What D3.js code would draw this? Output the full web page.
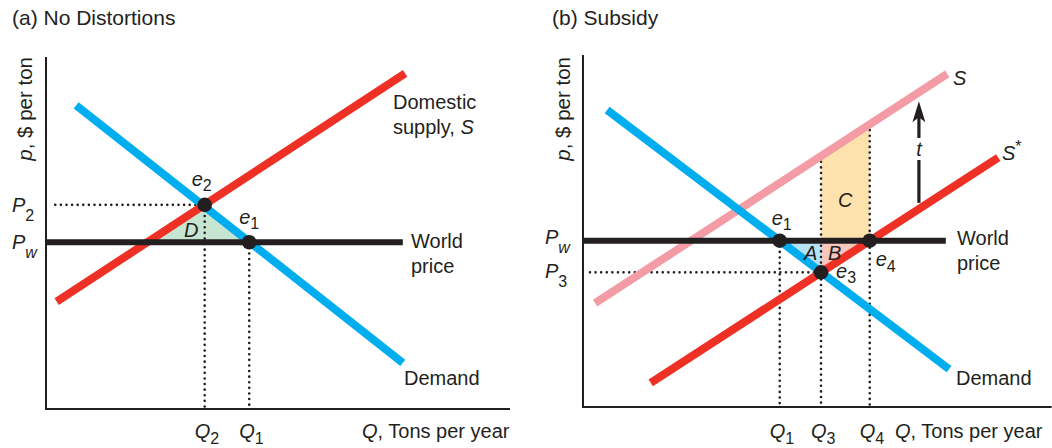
<!DOCTYPE html>
<html>
<head>
<meta charset="utf-8">
<script src="https://cdn.jsdelivr.net/npm/d3@7"></script>
<style>
  html, body { margin: 0; padding: 0; background: #ffffff; }
  svg { display: block; font-family: "Liberation Sans", Arial, Helvetica, sans-serif; }
</style>
</head>
<body>
<svg id="chart" width="1052" height="448"></svg>
<script>
// ---------------- DATA (quantity q, price p) ----------------
// Panel (a): No Distortions
const supplyA     = [[0.23, 2.44], [7.74, 7.63]];
const demandA     = [[0.65, 6.90], [7.69, 1.05]];
const worldPriceA = [[0, 3.79], [7.69, 3.79]];
const pointsA     = [{name: "e2", q: 3.42, p: 4.64}, {name: "e1", q: 4.38, p: 3.79}];
const areaD       = [[2.18, 3.79], [3.42, 4.64], [4.38, 3.79]];
const priceTicksA = [{base: "P", sub: "2", p: 4.64}, {base: "P", sub: "w", p: 3.79}];
const qTicksA     = [{base: "Q", sub: "2", q: 3.42, top: 4.64}, {base: "Q", sub: "1", q: 4.38, top: 3.79}];

// Panel (b): Subsidy
const supplyB     = [[0.26, 2.36], [7.85, 7.57]];
const supplyStarB = [[1.46, 0.55], [8.95, 5.67]];
const demandB     = [[0.52, 6.75], [7.89, 0.86]];
const worldPriceB = [[0, 3.78], [7.82, 3.78]];
const pointsB     = [{name: "e1", q: 4.24, p: 3.78}, {name: "e3", q: 5.13, p: 3.06}, {name: "e4", q: 6.18, p: 3.78}];
const areaA       = [[4.24, 3.78], [5.13, 3.78], [5.13, 3.06]];
const areaB       = [[5.13, 3.78], [6.18, 3.78], [5.13, 3.06]];
const areaC       = [[5.13, 3.78], [6.18, 3.78], [6.18, 6.42], [5.13, 5.70]];
const priceTicksB = [{base: "P", sub: "w", p: 3.78}, {base: "P", sub: "3", p: 3.06}];
const qTicksB     = [{base: "Q", sub: "1", q: 4.24, top: 3.78}, {base: "Q", sub: "3", q: 5.13, top: 5.70}, {base: "Q", sub: "4", q: 6.18, top: 6.42}];
const subsidyT    = {q: 7.24, from: 4.64, to: 6.95};

// ---------------- STYLE ----------------
const RED = "#ee3124", BLUE = "#00aeef", PINK = "#f49ca6", BLACK = "#231f20";
const GREEN_FILL = "#c6e6d2", ORANGE_FILL = "#fde2ad", A_FILL = "#b6e2f6", B_FILL = "#f8c8c0";
const FS = 20, SUBFS = 16;

const svg = d3.select("#chart");

// text with italic / subscript / superscript parts
function richText(g, x, y, parts, anchor) {
  const t = g.append("text").attr("x", x).attr("y", y).attr("font-size", FS)
    .attr("fill", BLACK).attr("text-anchor", anchor || "start");
  let shift = 0;
  parts.forEach(pt => {
    const target = pt.sub ? (pt.shift || 7) : (pt.sup ? -8 : 0);
    const ts = t.append("tspan").text(pt.t).attr("dy", target - shift);
    shift = target;
    if (pt.it) ts.attr("font-style", "italic");
    if (pt.sub || pt.sup) ts.attr("font-size", SUBFS);
  });
  return t;
}

function drawPanel(cfg) {
  const g = svg.append("g");
  const x = d3.scaleLinear().domain(cfg.qDomain).range(cfg.xRange);
  const y = d3.scaleLinear().domain([0, 8]).range(cfg.yRange);
  const line = d3.line().x(d => x(d[0])).y(d => y(d[1]));
  const poly = pts => line(pts) + "Z";

  // shaded areas
  cfg.areas.forEach(a => g.append("path").attr("d", poly(a.pts)).attr("fill", a.fill));

  // dotted guide lines
  const dotted = (pts) => g.append("path").attr("d", line(pts)).attr("fill", "none")
    .attr("stroke", BLACK).attr("stroke-width", 2.6).attr("stroke-linecap", "round")
    .attr("stroke-dasharray", "0 5.6");
  cfg.dottedH.forEach(d => dotted([[cfg.hStart, d.p], [d.q, d.p]]));
  cfg.qTicks.forEach(d => dotted([[d.q, d.top], [d.q, 0.05]]));

  // axes (L shape)
  g.append("path").attr("d", line([[0, 8], [0, 0], [cfg.qDomain[1], 0]]))
    .attr("fill", "none").attr("stroke", BLACK).attr("stroke-width", 2);

  // curves
  cfg.curves.forEach(c => g.append("path").attr("d", line(c.pts)).attr("fill", "none")
    .attr("stroke", c.color).attr("stroke-width", c.w));

  // equilibrium points
  cfg.points.forEach(pt => g.append("circle").attr("cx", x(pt.q)).attr("cy", y(pt.p))
    .attr("r", 7.3).attr("fill", BLACK));

  // price tick labels
  cfg.priceTicks.forEach((d, i) => richText(g, cfg.pLabelX, y(d.p) + cfg.pLabelDy[i],
    [{t: d.base, it: true}, {t: d.sub, it: d.sub === "w", sub: true, shift: 9}]));

  // quantity tick labels
  cfg.qTicks.forEach(d => richText(g, x(d.q) - 10, 438,
    [{t: d.base, it: true}, {t: d.sub, sub: true, shift: 6}]));

  // axis titles
  richText(g, cfg.xTitleX, 438, [{t: "Q", it: true}, {t: ", Tons per year"}]);
  const yl = g.append("text").attr("transform", `translate(${cfg.yTitleX},57) rotate(-90)`)
    .attr("text-anchor", "end").attr("font-size", FS + 0.5).attr("fill", BLACK);
  yl.append("tspan").text("p").attr("font-style", "italic");
  yl.append("tspan").text(", $ per ton");

  // panel title
  g.append("text").attr("x", cfg.titleX).attr("y", 25).attr("font-size", 21)
    .attr("fill", BLACK).text(cfg.title);

  return {g, x, y};
}

// ---------- Panel (a) ----------
const A = drawPanel({
  title: "(a) No Distortions", titleX: 12,
  qDomain: [0, 10], xRange: [46, 510], yRange: [409, 57],
  areas: [{pts: areaD, fill: GREEN_FILL}],
  dottedH: [{q: pointsA[0].q, p: priceTicksA[0].p}], hStart: 0.2,
  qTicks: qTicksA,
  curves: [
    {pts: demandA, color: BLUE, w: 8},
    {pts: supplyA, color: RED, w: 8},
    {pts: worldPriceA, color: BLACK, w: 6}
  ],
  points: pointsA,
  priceTicks: priceTicksA, pLabelX: 12, pLabelDy: [7, 7],
  xTitleX: 362, yTitleX: 32
});
richText(A.g, 393, 109, [{t: "Domestic"}]);
richText(A.g, 393, 134, [{t: "supply,  "}, {t: "S", it: true}]);
richText(A.g, 411, 248, [{t: "World"}]);
richText(A.g, 411, 273, [{t: "price"}]);
richText(A.g, 404, 385, [{t: "Demand"}]);
richText(A.g, A.x(pointsA[0].q) - 13, A.y(pointsA[0].p) - 19, [{t: "e", it: true}, {t: "2", sub: true, shift: 5}]);
richText(A.g, A.x(pointsA[1].q) - 10, A.y(pointsA[1].p) - 18, [{t: "e", it: true}, {t: "1", sub: true, shift: 5}]);
richText(A.g, 184, 237, [{t: "D", it: true}]);

// ---------- Panel (b) ----------
const B = drawPanel({
  title: "(b) Subsidy", titleX: 552,
  qDomain: [0, 10.1], xRange: [583, 1051.6], yRange: [407, 55],
  areas: [{pts: areaC, fill: ORANGE_FILL}, {pts: areaA, fill: A_FILL}, {pts: areaB, fill: B_FILL}],
  dottedH: [{q: pointsB[1].q, p: priceTicksB[1].p}], hStart: 0.15,
  qTicks: qTicksB,
  curves: [
    {pts: supplyB, color: PINK, w: 8},
    {pts: demandB, color: BLUE, w: 8},
    {pts: supplyStarB, color: RED, w: 8},
    {pts: worldPriceB, color: BLACK, w: 6}
  ],
  points: pointsB,
  priceTicks: priceTicksB, pLabelX: 545, pLabelDy: [3, 6],
  xTitleX: 895, yTitleX: 570
});
// subsidy arrow t
{
  const ax = B.x(subsidyT.q), y0 = B.y(subsidyT.from), y1 = B.y(subsidyT.to);
  B.g.append("line").attr("x1", ax).attr("x2", ax).attr("y1", y0).attr("y2", 160)
    .attr("stroke", BLACK).attr("stroke-width", 3.2);
  B.g.append("line").attr("x1", ax).attr("x2", ax).attr("y1", 138).attr("y2", y1 + 14)
    .attr("stroke", BLACK).attr("stroke-width", 3.2);
  B.g.append("path")
    .attr("d", `M${ax},${y1} L${ax + 6.5},${y1 + 21} L${ax},${y1 + 16} L${ax - 6.5},${y1 + 21} Z`)
    .attr("fill", BLACK);
  richText(B.g, ax, 156, [{t: "t", it: true}], "middle");
}
richText(B.g, 953, 85, [{t: "S", it: true}]);
richText(B.g, 1002, 160, [{t: "S", it: true}, {t: "*", sup: true}]);
richText(B.g, 957, 245, [{t: "World"}]);
richText(B.g, 957, 270, [{t: "price"}]);
richText(B.g, 956, 385, [{t: "Demand"}]);
richText(B.g, B.x(pointsB[0].q) - 8, B.y(pointsB[0].p) - 16, [{t: "e", it: true}, {t: "1", sub: true, shift: 5}]);
richText(B.g, B.x(pointsB[1].q) + 15, B.y(pointsB[1].p) + 6, [{t: "e", it: true}, {t: "3", sub: true, shift: 5}]);
richText(B.g, B.x(pointsB[2].q) + 6, B.y(pointsB[2].p) + 25, [{t: "e", it: true}, {t: "4", sub: true, shift: 6}]);
richText(B.g, 804, 260, [{t: "A", it: true}]);
richText(B.g, 828, 260, [{t: "B", it: true}]);
richText(B.g, 838, 207, [{t: "C", it: true}]);
</script>
</body>
</html>
